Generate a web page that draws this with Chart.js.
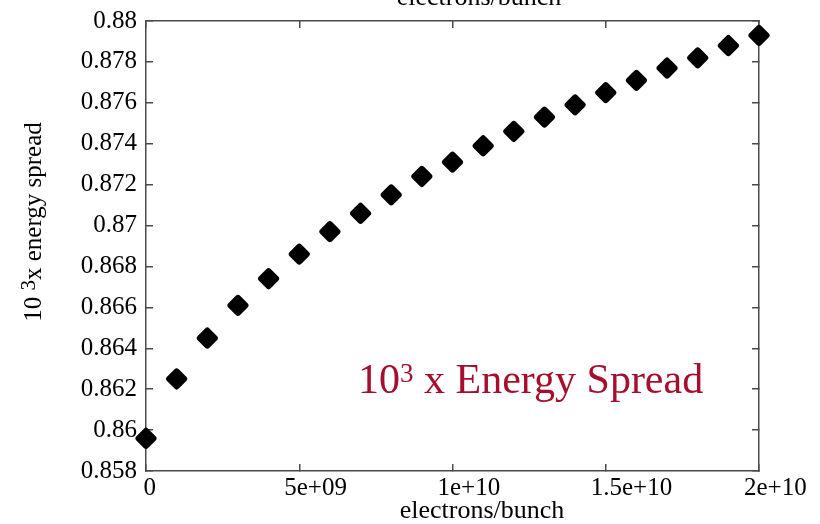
<!DOCTYPE html>
<html>
<head>
<meta charset="utf-8">
<title>Energy spread vs bunch charge</title>
<script src="https://cdn.jsdelivr.net/npm/chart.js@4.4.1/dist/chart.umd.min.js"></script>
<style>
  html, body { margin: 0; padding: 0; background: #ffffff; }
  #wrap { width: 820px; height: 524px; }
  canvas { display: block; }
</style>
</head>
<body>
<div id="wrap"><canvas id="chart" width="820" height="524"></canvas></div>
<script>
// Bunch population (electrons/bunch)
const electronsPerBunch = [
  0, 1e9, 2e9, 3e9, 4e9, 5e9, 6e9, 7e9, 8e9, 9e9, 1e10,
  1.1e10, 1.2e10, 1.3e10, 1.4e10, 1.5e10, 1.6e10, 1.7e10, 1.8e10, 1.9e10, 2e10
];
// 10^3 x relative energy spread
const energySpread = [
  0.8596, 0.8625, 0.8645, 0.8661, 0.8674, 0.8686, 0.8697, 0.8706, 0.8715, 0.8724, 0.8731,
  0.8739, 0.8746, 0.8753, 0.8759, 0.8765, 0.8771, 0.8777, 0.8782, 0.8788, 0.8793
];
// Axis tick labels
const xTickLabels = ['0', '5e+09', '1e+10', '1.5e+10', '2e+10'];
const yTickLabels = ['0.858', '0.86', '0.862', '0.864', '0.866', '0.868',
                     '0.87', '0.872', '0.874', '0.876', '0.878', '0.88'];
const xTitle = 'electrons/bunch';
const yTitleParts = ['10', '3', 'x energy spread'];
const keyParts = ['10', '3', ' x Energy Spread'];

const X_MIN = 0, X_MAX = 2e10, X_STEP = 5e9;
const Y_MIN = 0.858, Y_MAX = 0.88, Y_STEP = 0.002;

const SERIF = '"Liberation Serif", "Times New Roman", serif';
const FRAME = '#4a4a4a';
const KEY_COLOR = '#a50f2d';

const points = electronsPerBunch.map((x, i) => ({ x: x, y: energySpread[i] }));

function fixSize(prop, size) {
  return function (scale) {
    scale[prop] = size;
    scale.paddingLeft = 0;
    scale.paddingRight = 0;
    scale.paddingTop = 0;
    scale.paddingBottom = 0;
  };
}

const frameGrid = {
  display: true,
  drawOnChartArea: false,
  drawTicks: true,
  tickLength: -7,
  color: FRAME,
  lineWidth: 1.5
};
const frameBorder = { display: true, color: FRAME, width: 1.5 };

// Round the corners of the diamond markers
const roundJoin = {
  id: 'roundJoin',
  beforeDatasetDraw(chart) { chart.ctx.save(); chart.ctx.lineJoin = 'round'; },
  afterDatasetDraw(chart) { chart.ctx.restore(); }
};

// Axis titles and the in-plot key, drawn with raised exponents
function drawRun(ctx, parts, sizes, raises, x, y, color) {
  let cx = x;
  parts.forEach((p, i) => {
    ctx.font = sizes[i] + 'px ' + SERIF;
    ctx.fillStyle = color;
    ctx.fillText(p, cx, y - raises[i]);
    cx += ctx.measureText(p).width;
  });
}
function runWidth(ctx, parts, sizes) {
  let w = 0;
  parts.forEach((p, i) => {
    ctx.font = sizes[i] + 'px ' + SERIF;
    w += ctx.measureText(p).width;
  });
  return w;
}

const labels = {
  id: 'labels',
  afterDraw(chart) {
    const ctx = chart.ctx;
    ctx.save();
    ctx.textBaseline = 'alphabetic';
    ctx.textAlign = 'left';

    // x titles (bottom, and the partly cut one on top)
    ctx.font = '26px ' + SERIF;
    ctx.fillStyle = '#000';
    ctx.textAlign = 'center';
    ctx.fillText(xTitle, 482, 518);
    ctx.fillText(xTitle, 479, 5);
    ctx.textAlign = 'left';

    // y title, rotated
    const ySizes = [25, 21, 25];
    const yRaises = [0, 6, 0];
    const yParts = [yTitleParts[0] + ' ', yTitleParts[1], yTitleParts[2]];
    const yw = runWidth(ctx, yParts, ySizes);
    ctx.save();
    ctx.translate(41, 222);
    ctx.rotate(-Math.PI / 2);
    drawRun(ctx, yParts, ySizes, yRaises, -yw / 2, 0, '#000');
    ctx.restore();

    // key text
    drawRun(ctx, keyParts, [42, 27, 42], [0, 11, 0], 358, 393, KEY_COLOR);
    ctx.restore();
  }
};

new Chart(document.getElementById('chart'), {
  type: 'scatter',
  data: {
    datasets: [{
      label: '10^3 x Energy Spread',
      data: points,
      showLine: false,
      pointStyle: 'rectRot',
      pointRadius: 7.5,
      pointHoverRadius: 7.5,
      pointBorderWidth: 6,
      pointBackgroundColor: '#000',
      pointBorderColor: '#000',
      clip: false
    }]
  },
  options: {
    responsive: false,
    animation: false,
    devicePixelRatio: 1,
    layout: { padding: 0 },
    plugins: {
      legend: { display: false },
      title: { display: false },
      tooltip: { enabled: false }
    },
    scales: {
      x: {
        type: 'linear', position: 'bottom',
        min: X_MIN, max: X_MAX,
        afterFit: fixSize('height', 53),
        grid: frameGrid, border: frameBorder,
        ticks: {
          stepSize: X_STEP, autoSkip: false, maxRotation: 0,
          align: 'start', labelOffset: -15, padding: 9,
          color: '#000', font: { family: SERIF, size: 25 },
          callback: (v) => {
            const i = Math.round(v / X_STEP);
            return (i === 0 ? '\u2002' : '') + xTickLabels[i];
          }
        }
      },
      x2: {
        type: 'linear', axis: 'x', position: 'top',
        min: X_MIN, max: X_MAX,
        afterFit: fixSize('height', 21),
        grid: frameGrid, border: frameBorder,
        ticks: { stepSize: X_STEP, display: false }
      },
      y: {
        type: 'linear', position: 'left',
        min: Y_MIN, max: Y_MAX,
        afterFit: fixSize('width', 146),
        grid: frameGrid, border: frameBorder,
        ticks: {
          stepSize: Y_STEP, autoSkip: false, padding: 16,
          color: '#000', font: { family: SERIF, size: 25 },
          callback: (v) => yTickLabels[Math.round((v - Y_MIN) / Y_STEP)]
        }
      },
      y2: {
        type: 'linear', axis: 'y', position: 'right',
        min: Y_MIN, max: Y_MAX,
        afterFit: fixSize('width', 61),
        grid: frameGrid, border: frameBorder,
        ticks: { stepSize: Y_STEP, display: false }
      }
    }
  },
  plugins: [roundJoin, labels]
});
</script>
</body>
</html>
